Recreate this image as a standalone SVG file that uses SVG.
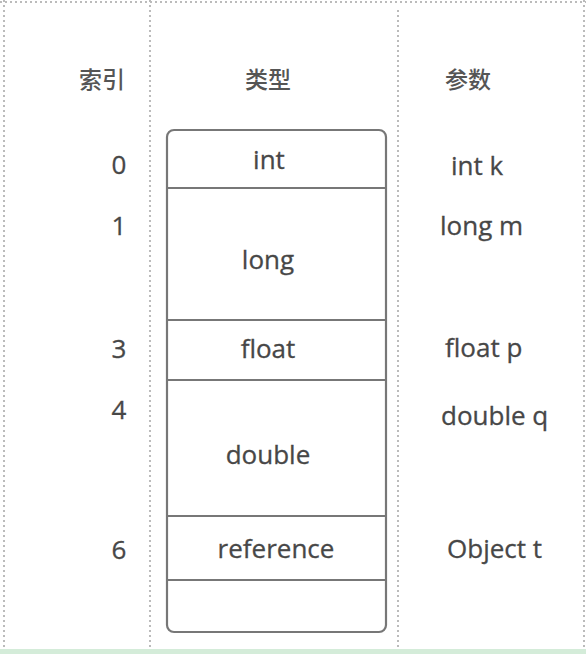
<svg xmlns="http://www.w3.org/2000/svg" width="586" height="654" viewBox="0 0 586 654">
<style>
.t{font-family:"Open Sans","Liberation Sans","Noto Sans CJK SC",sans-serif;font-size:26px;fill:#474747;stroke:#474747;stroke-width:0.3}
.h{font-family:"Noto Sans CJK SC",sans-serif;font-size:23px;font-weight:500;fill:#555}
.dot{stroke:#bbb;stroke-width:2;stroke-dasharray:2 3;fill:none}
.cell{stroke:#777;stroke-width:2.2;fill:none}
</style>
<rect width="586" height="654" fill="#fff"/>
<g id="grid">
<line class="dot" x1="0" y1="2" x2="586" y2="2"/>
<line class="dot" x1="4" y1="0" x2="4" y2="650"/>
<line class="dot" x1="150" y1="0" x2="150" y2="650"/>
<line class="dot" x1="398" y1="10" x2="398" y2="650"/>
<line class="dot" x1="584" y1="0" x2="584" y2="650"/>
<rect x="0" y="649" width="586" height="5" fill="#d4ecd9"/>
</g>
<g id="headers">
<text class="h" x="102" y="88" text-anchor="middle">索引</text>
<text class="h" x="268" y="88" text-anchor="middle">类型</text>
<text class="h" x="468" y="88" text-anchor="middle">参数</text>
</g>
<g id="stack">
<rect class="cell" x="167" y="130" width="219" height="502" rx="7"/>
<line class="cell" x1="167" y1="188" x2="386" y2="188"/>
<line class="cell" x1="167" y1="320" x2="386" y2="320"/>
<line class="cell" x1="167" y1="380" x2="386" y2="380"/>
<line class="cell" x1="167" y1="516" x2="386" y2="516"/>
<line class="cell" x1="167" y1="580" x2="386" y2="580"/>
</g>
<g id="slot-int"><text class="t" x="269" y="169" text-anchor="middle">int</text></g>
<g id="slot-long"><text class="t" x="268" y="269" text-anchor="middle">long</text></g>
<g id="slot-float"><text class="t" x="268" y="358" text-anchor="middle">float</text></g>
<g id="slot-double"><text class="t" x="268" y="464" text-anchor="middle">double</text></g>
<g id="slot-reference"><text class="t" x="276" y="558" text-anchor="middle">reference</text></g>
<g id="slot-empty"></g>
<g id="indices">
<text class="t" x="119" y="174" text-anchor="middle">0</text>
<text class="t" x="119" y="235" text-anchor="middle">1</text>
<text class="t" x="119" y="358" text-anchor="middle">3</text>
<text class="t" x="119" y="419" text-anchor="middle">4</text>
<text class="t" x="119" y="559" text-anchor="middle">6</text>
</g>
<g id="params">
<text class="t" x="451" y="175">int k</text>
<text class="t" x="440" y="235">long m</text>
<text class="t" x="445" y="357">float p</text>
<text class="t" x="441" y="425">double q</text>
<text class="t" x="447" y="558">Object t</text>
</g>
<g id="connectors"></g>
</svg>
